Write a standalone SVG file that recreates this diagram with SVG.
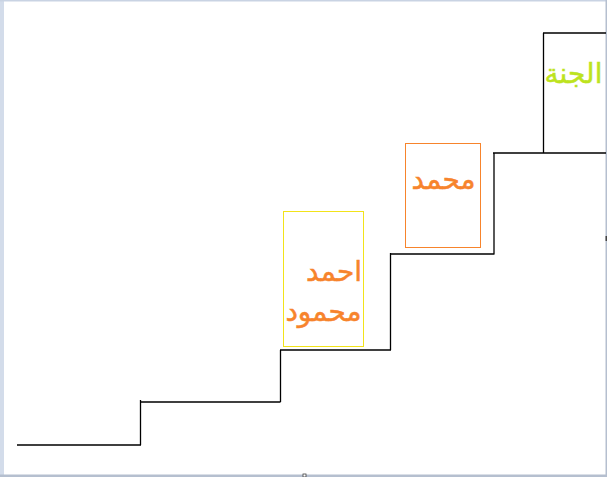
<svg xmlns="http://www.w3.org/2000/svg" width="607" height="477" viewBox="0 0 607 477">
<style>
.step{fill:none;stroke:#000;stroke-width:1.3}
.lbl{font-family:"DejaVu Sans","Liberation Sans",sans-serif;font-size:28px;text-anchor:middle;stroke-width:0.5}
.org{fill:#f7842c;stroke:#f7842c}
</style>
<rect x="0" y="0" width="607" height="477" fill="#ffffff"/>
<rect x="0" y="0" width="4" height="477" fill="#d3dcea"/>
<rect x="0" y="0" width="607" height="1.5" fill="#c9d3e3"/>
<rect x="0" y="474.5" width="607" height="2.5" fill="#b5bfcf"/>
<rect x="605.5" y="0" width="1.5" height="477" fill="#b5bfcf"/>
<rect x="303" y="474" width="3" height="3" fill="#fff" stroke="#444" stroke-width="0.8"/>
<rect x="605.5" y="236" width="1.5" height="5" fill="#444"/>
<g id="connectors">
<path class="step" d="M17,445 H141 M140.5,400 V445 M140.5,402 H280.5 M280.5,350 V402 M280,350 H391 M390.5,253 V350 M390,254 H494.5 M494,153 V254 M493,153 H606 M543.5,33 V153 M543,33 H606"/>
</g>
<g id="node-ahmed">
<rect x="283.5" y="211.5" width="80" height="135" fill="none" stroke="#f2e31a" stroke-width="1"/>
<text class="lbl org" x="334" y="281">احمد</text>
<text class="lbl org" x="323.5" y="321">محمود</text>
</g>
<g id="node-mohamed">
<rect x="405.5" y="143.5" width="75" height="104" fill="none" stroke="#f7842c" stroke-width="1"/>
<text class="lbl org" x="443.5" y="189">محمد</text>
</g>
<g id="node-jannah">
<text class="lbl" x="573.5" y="83" fill="#bde31e" stroke="#bde31e">الجنة</text>
</g>
</svg>
